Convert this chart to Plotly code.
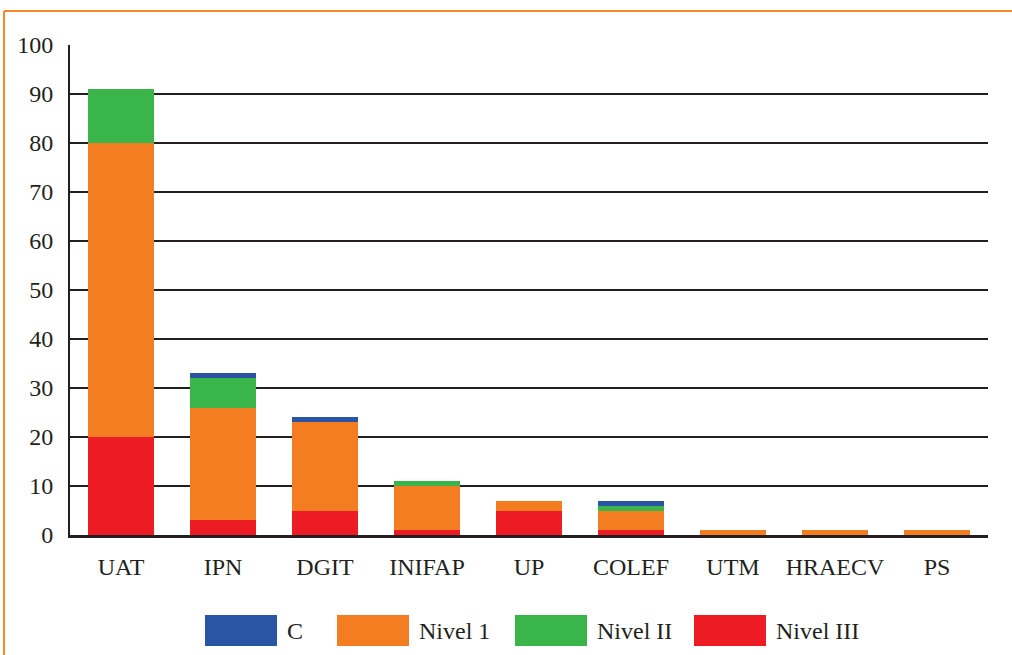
import plotly.graph_objects as go

institutions = ["UAT", "IPN", "DGIT", "INIFAP", "UP", "COLEF", "UTM", "HRAECV", "PS"]
nivel_iii = [20, 3, 5, 1, 5, 1, 0, 0, 0]
nivel_1 = [60, 23, 18, 9, 2, 4, 1, 1, 1]
nivel_ii = [11, 6, 0, 1, 0, 1, 0, 0, 0]
cand = [0, 1, 1, 0, 0, 1, 0, 0, 0]

series = [
    ("Nivel III", nivel_iii, "#ED1C24"),
    ("Nivel 1", nivel_1, "#F47D22"),
    ("Nivel II", nivel_ii, "#3AB54A"),
    ("C", cand, "#2A55A5"),
]
legend_order = ["C", "Nivel 1", "Nivel II", "Nivel III"]

FONT = "Liberation Serif, Times New Roman, serif"
W, H = 1012, 655
L, R, T, B = 70, 24, 45, 120

fig = go.Figure()
for name, vals, col in series:
    fig.add_trace(go.Bar(x=institutions, y=vals, name=name, marker_color=col,
                         marker_line_width=0, showlegend=False))

# custom legend with wide swatches (paper coords)
pw, ph = W - L - R, H - T - B
def px_x(x): return (x - L) / pw
def px_y(y): return (H - B - y) / ph

colors = {n: c for n, _, c in series}
sw_left = [205, 337, 515, 694]
for name, x0 in zip(legend_order, sw_left):
    fig.add_shape(type="rect", xref="paper", yref="paper",
                  x0=px_x(x0), x1=px_x(x0 + 72), y0=px_y(646), y1=px_y(615),
                  fillcolor=colors[name], line_width=0)
    fig.add_annotation(text=name, xref="paper", yref="paper", x=px_x(x0 + 80), y=px_y(631),
                       xanchor="left", yanchor="middle", showarrow=False,
                       font=dict(family=FONT, size=24, color="#231F20"))

# orange frame
fig.add_shape(type="line", xref="paper", yref="paper", x0=px_x(4), x1=px_x(W + 5),
              y0=px_y(11), y1=px_y(11), line=dict(color="#F58A2A", width=2))
fig.add_shape(type="line", xref="paper", yref="paper", x0=px_x(4), x1=px_x(4),
              y0=px_y(11), y1=px_y(H + 5), line=dict(color="#F58A2A", width=2))

fig.update_layout(
    barmode="stack", bargap=0.35,
    width=W, height=H,
    margin=dict(l=L, r=R, t=T, b=B),
    plot_bgcolor="white", paper_bgcolor="white",
    font=dict(family=FONT, size=24, color="#231F20"),
)
fig.update_xaxes(showline=True, linecolor="#231F20", linewidth=3,
                 ticks="", ticklabelstandoff=8,
                 tickfont=dict(family=FONT, size=24, color="#231F20"))
fig.update_yaxes(range=[0, 100], dtick=10, showgrid=True, gridcolor="#231F20", gridwidth=1.5,
                 showline=True, linecolor="#231F20", linewidth=2, zeroline=False,
                 ticklabelstandoff=10,
                 tickfont=dict(family=FONT, size=24, color="#231F20"))

fig.write_html("out.html", config={"displayModeBar": False},
               post_script="document.body.style.margin='0';")
